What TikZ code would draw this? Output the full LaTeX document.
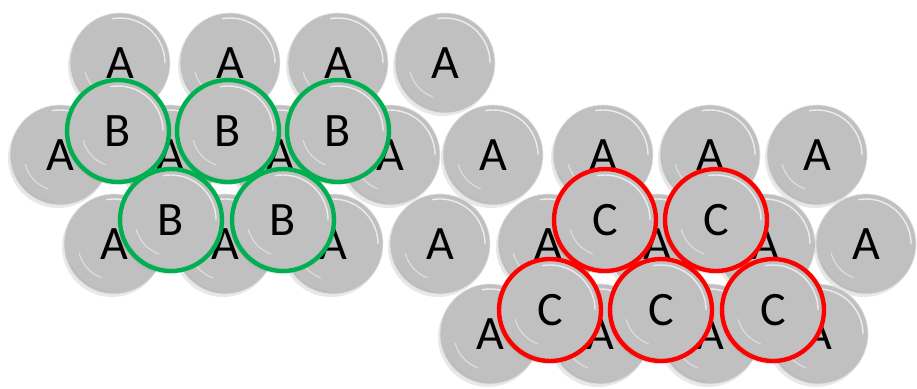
\documentclass[tikz,border=0pt]{standalone}
\usepackage{fontspec}
\setmainfont{Carlito}
\usetikzlibrary{shadows}
\definecolor{ballgray}{HTML}{C0C0C0}
\definecolor{ringgreen}{HTML}{00B050}
\definecolor{ringred}{HTML}{FF0000}
\newcommand\ballfont{\fontsize{48}{48}\selectfont}
\tikzset{
  ball/.style={circle, minimum size=100pt, inner sep=0pt, fill=ballgray,
    draw=white!55!ballgray, line width=0.6pt, font=\ballfont,
    drop shadow={shadow xshift=-2pt, shadow yshift=-3pt, opacity=0.18},
    path picture={
      \draw[white, opacity=0.7, line width=1.4pt]
        ([shift={(0:45pt)}]path picture bounding box.center) arc (0:100:45pt);
      \draw[white, opacity=0.5, line width=1.1pt]
        ([shift={(195:36pt)}]path picture bounding box.center) arc (195:250:36pt);
      \draw[gray!70, opacity=0.35, line width=0.6pt]
        ([shift={(205:48pt)}]path picture bounding box.center) arc (205:265:48pt);
    }},
  bball/.style={ball, draw=ringgreen, line width=4.4pt, minimum size=102pt},
  cball/.style={ball, draw=ringred, line width=4.4pt, minimum size=102pt}
}
\begin{document}
\begin{tikzpicture}[x=1pt, y=-1pt]
\useasboundingbox[fill=white] (0,0) rectangle (917,388);
% layer A
\foreach \x [count=\i] in {120,230,338,445}
  \node[ball] (a1-\i) at (\x,63) {A};
\foreach \x [count=\i] in {60,170,280,390,493,603,710,817}
  \node[ball] (a2-\i) at (\x,155) {A};
\foreach \x [count=\i] in {114,225,333,440,548,657,765,866}
  \node[ball] (a3-\i) at (\x,244) {A};
\foreach \x [count=\i] in {490,600,710,818}
  \node[ball] (a4-\i) at (\x,334) {A};
% layer B
\node[bball] (b1) at (118,131) {B};
\node[bball] (b2) at (228,131) {B};
\node[bball] (b3) at (338,131) {B};
\node[bball] (b4) at (171,220) {B};
\node[bball] (b5) at (283,220) {B};
% layer C
\node[cball] (c1) at (605,220) {C};
\node[cball] (c2) at (716,220) {C};
\node[cball] (c3) at (550,310) {C};
\node[cball] (c4) at (661,310) {C};
\node[cball] (c5) at (773,310) {C};
\end{tikzpicture}
\end{document}
